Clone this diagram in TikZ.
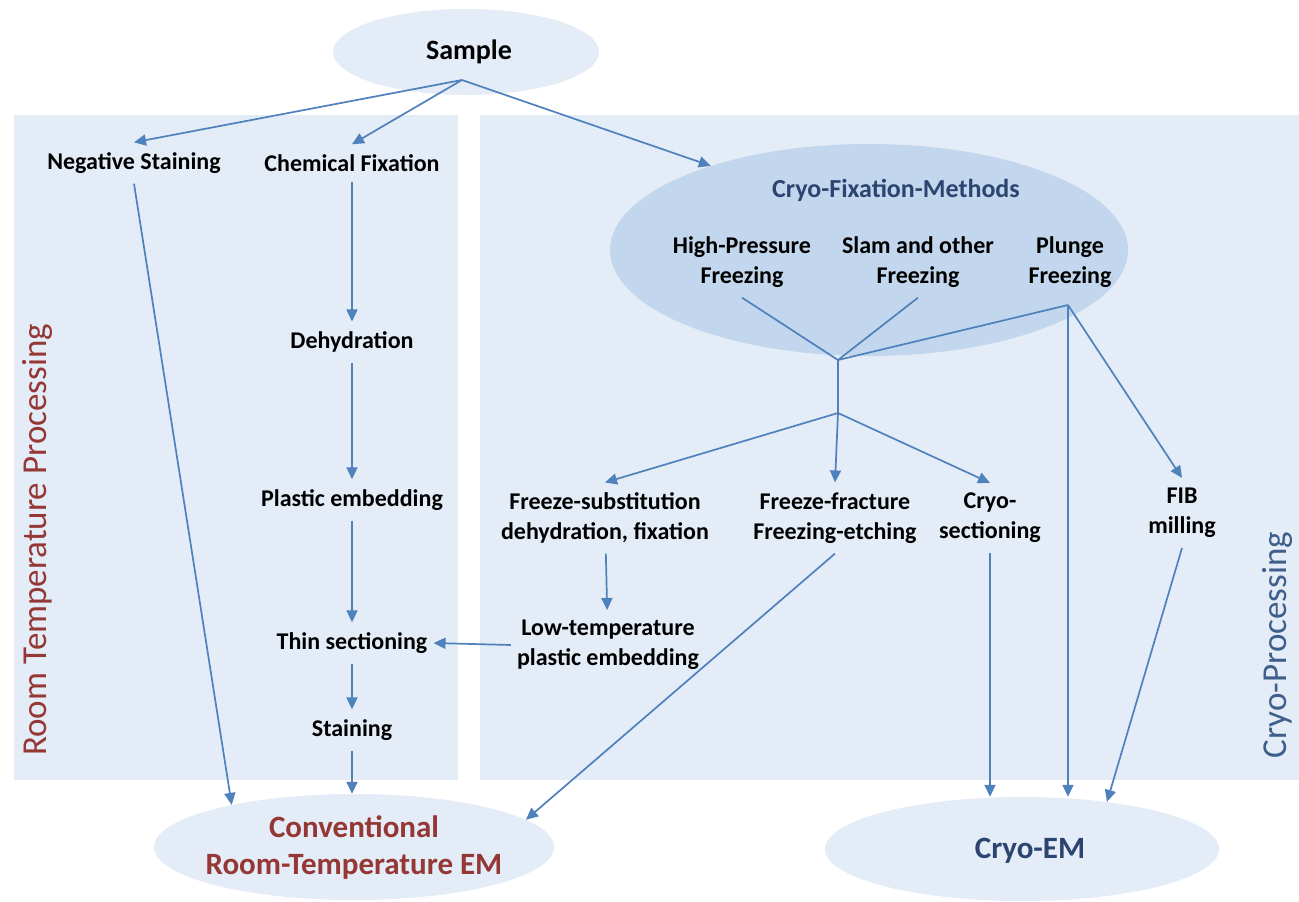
\documentclass[tikz,border=0pt]{standalone}
\usepackage{fontspec}
\setmainfont{Carlito}
\usepackage{xcolor}
\usepackage{tikz}
\usetikzlibrary{arrows.meta,shapes.geometric,positioning}

\definecolor{panelblue}{HTML}{E3ECF7}
\definecolor{cryoblue}{HTML}{C2D6ED}
\definecolor{arrowblue}{HTML}{4F81BD}
\definecolor{rtred}{HTML}{953735}
\definecolor{cryotext}{HTML}{2B4570}
\definecolor{sidetext}{HTML}{3D5F8A}

\begin{document}
\begin{tikzpicture}[x=1pt, y=-1pt,
  lbl/.style={font=\fontsize{24}{30}\selectfont\bfseries, align=center, inner xsep=6pt, inner ysep=10pt},
  blob/.style={ellipse, fill=panelblue, inner sep=0pt},
  flow/.style={arrowblue, line width=1.7pt, -{Triangle[length=12pt,width=11pt]}},
  link/.style={arrowblue, line width=1.7pt}]
  \useasboundingbox (0,0) rectangle (1299,902);
  \fill[white] (0,0) rectangle (1299,902);
  \fill[panelblue] (14,115) rectangle (458,780);
  \fill[panelblue] (480,115) rectangle (1299,780);

  \node[rotate=90, text=rtred, font=\fontsize{35}{40}\selectfont] (rtlabel) at (37,540) {Room Temperature Processing};
  \node[rotate=90, text=sidetext, font=\fontsize{35}{40}\selectfont] (cplabel) at (1277,645) {Cryo-Processing};

  \node[blob, minimum width=266pt, minimum height=86pt] (sample) at (466,52) {};
  \node[font=\fontsize{28}{32}\selectfont\bfseries] (sampletxt) at (469,52) {Sample};
  \node[blob, minimum width=400pt, minimum height=106pt] (conv) at (354,847) {};
  \node[text=rtred, align=center, font=\fontsize{31}{37}\selectfont\bfseries] (convtxt) at (354,848) {Conventional\\Room-Temperature EM};
  \node[blob, minimum width=394pt, minimum height=104pt] (cryoem) at (1022,849) {};
  \node[text=cryotext, font=\fontsize{31}{36}\selectfont\bfseries] (cryoemtxt) at (1030,851) {Cryo-EM};
  \node[blob, fill=cryoblue, minimum width=518pt, minimum height=212pt] (cryofix) at (869,250) {};
  \node[lbl, text=cryotext, font=\fontsize{26}{30}\selectfont\bfseries] (cfm) at (896,190) {Cryo-Fixation-Methods};

  % room temperature side
  \node[lbl] (neg) at (134,163) {Negative Staining};
  \node[lbl] (chem) at (352,163) {Chemical Fixation};
  \node[lbl] (dehyd) at (352,342) {Dehydration};
  \node[lbl] (plast) at (352,500) {Plastic embedding};
  \node[lbl] (thin) at (352,643) {Thin sectioning};
  \node[lbl] (stain) at (352,730) {Staining};

  % cryo side
  \node[lbl] (hpf) at (742,262) {High-Pressure\\Freezing};
  \node[lbl] (slam) at (918,262) {Slam and other\\Freezing};
  \node[lbl] (plunge) at (1070,262) {Plunge\\Freezing};
  \node[lbl] (fsub) at (605,518) {Freeze-substitution\\dehydration, fixation};
  \node[lbl] (ffrac) at (835,518) {Freeze-fracture\\Freezing-etching};
  \node[lbl] (csec) at (990,518) {Cryo-\\sectioning};
  \node[lbl] (fib) at (1182,513) {FIB\\milling};
  \node[lbl] (lowt) at (608,645) {Low-temperature\\plastic embedding};

  \coordinate (sfork) at (462,80);
  \coordinate (join) at (838,360);
  \coordinate (split) at (838,413);
  \coordinate (pfork) at (1068,305);

  \draw[flow] (sfork) -- (neg.north);
  \draw[flow] (sfork) -- (chem.north);
  \draw[flow] (sfork) -- (cryofix.152);

  \draw[flow] (chem) -- (dehyd);
  \draw[flow] (dehyd) -- (plast);
  \draw[flow] (plast) -- (thin);
  \draw[flow] (thin) -- (stain);
  \draw[flow] (stain) -- (stain |- conv.north);
  \draw[flow] (neg.south) -- (conv.161);

  \draw[link] (hpf.south) -- (join);
  \draw[link] (slam.south) -- (join);
  \draw[link] (pfork) -- (join) -- (split);
  \draw[flow] (split) -- (fsub.north);
  \draw[flow] (split) -- (ffrac.north);
  \draw[flow] (split) -- (csec.north);
  \draw[flow] (pfork) -- (fib.north);
  \draw[flow] (pfork) -- (pfork |- cryoem.north);

  \draw[flow] (fsub) -- (lowt);
  \draw[flow] (lowt.west) -- (thin.east);
  \draw[flow] (ffrac.south) -- (conv.9);
  \draw[flow] (csec.south) -- (csec.south |- cryoem.north);
  \draw[flow] (fib.south) -- (cryoem.29);
\end{tikzpicture}
\end{document}
